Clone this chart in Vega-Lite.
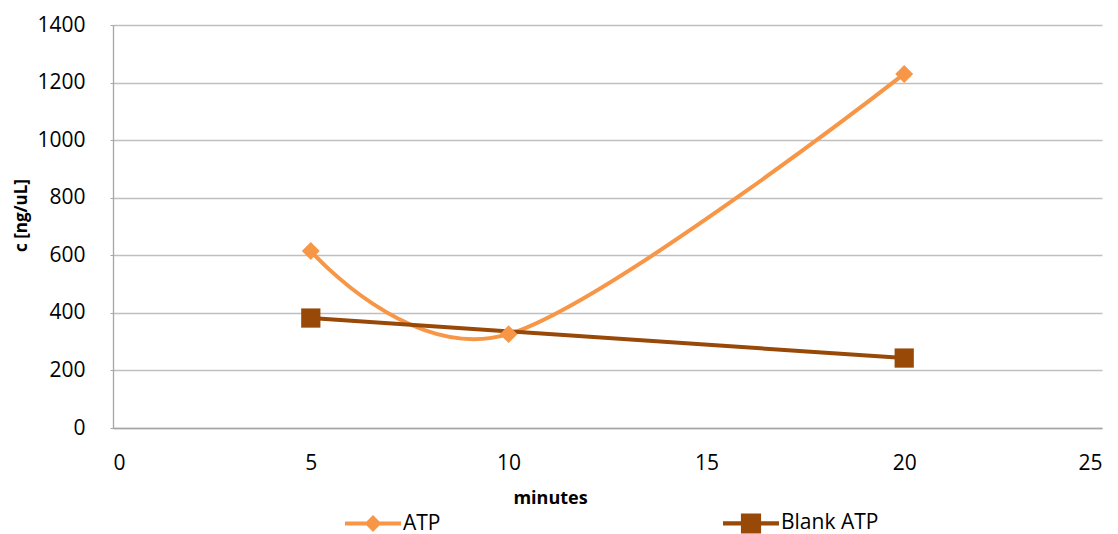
{
  "$schema": "https://vega.github.io/schema/vega-lite/v6.json",
  "width": 989,
  "height": 403,
  "autosize": {"type": "none"},
  "padding": {"left": 113, "top": 25, "right": 16, "bottom": 106},
  "background": "white",
  "config": {
    "font": "Open Sans",
    "view": {"stroke": null},
    "axis": {
      "labelFont": "Open Sans",
      "labelFontSize": 21,
      "labelColor": "#000000",
      "titleFont": "Open Sans",
      "titleFontSize": 18,
      "titleFontWeight": "bold",
      "titleColor": "#000000",
      "domainColor": "#a6a6a6",
      "domainWidth": 1.3,
      "tickColor": "#a6a6a6",
      "gridColor": "#bfbfbf",
      "gridWidth": 1.3
    }
  },
  "data": {
    "values": [
      {"minutes": 5, "c": 615, "series": "ATP"},
      {"minutes": 10, "c": 326, "series": "ATP"},
      {"minutes": 20, "c": 1230, "series": "ATP"},
      {"minutes": 5, "c": 382, "series": "Blank ATP"},
      {"minutes": 20, "c": 243, "series": "Blank ATP"}
    ]
  },
  "encoding": {
    "x": {
      "field": "minutes",
      "type": "quantitative",
      "scale": {"domain": [0, 25], "nice": false},
      "axis": {
        "values": [0, 5, 10, 15, 20, 25],
        "format": "d",
        "grid": false,
        "ticks": false,
        "labelPadding": 24,
        "title": "minutes",
        "titleX": 437,
        "titlePadding": 16
      }
    },
    "y": {
      "field": "c",
      "type": "quantitative",
      "scale": {"domain": [0, 1400], "nice": false},
      "axis": {
        "values": [0, 200, 400, 600, 800, 1000, 1200, 1400],
        "format": "d",
        "tickSize": 3,
        "labelPadding": 25,
        "title": "c [ng/uL]",
        "titleFontSize": 17,
        "titleX": -92,
        "titleY": 190,
        "titleBaseline": "middle"
      }
    },
    "color": {
      "field": "series",
      "type": "nominal",
      "scale": {"domain": ["ATP", "Blank ATP"], "range": ["#f79646", "#984807"]},
      "legend": {
        "orient": "none",
        "legendX": 232,
        "legendY": 470,
        "direction": "horizontal",
        "columns": 2,
        "columnPadding": 282,
        "title": null,
        "labelFont": "Open Sans",
        "labelFontSize": 21,
        "labelColor": "#000000",
        "labelOffset": 2,
        "labelLimit": 300,
        "symbolSize": 3136,
        "symbolStrokeWidth": 0,
        "encode": {
          "symbols": {
            "update": {
              "shape": {"signal": "datum.value === 'ATP' ? 'M-1,-0.075H1V0.075H-1Z M0,-0.3L0.3,0L0,0.3L-0.3,0Z' : 'M-1,-0.075H1V0.075H-1Z M-0.36,-0.36H0.36V0.36H-0.36Z'"},
              "fillOpacity": {"value": 1},
              "strokeWidth": {"value": 0}
            }
          }
        }
      }
    }
  },
  "layer": [
    {
      "transform": [{"filter": "datum.series === 'ATP'"}],
      "mark": {"type": "line", "interpolate": "cardinal", "tension": 0, "strokeWidth": 4, "strokeCap": "round"}
    },
    {
      "transform": [{"filter": "datum.series === 'Blank ATP'"}],
      "mark": {"type": "line", "strokeWidth": 4}
    },
    {
      "transform": [{"filter": "datum.series === 'ATP'"}],
      "mark": {"type": "point", "shape": "diamond", "filled": true, "opacity": 1, "size": 320}
    },
    {
      "transform": [{"filter": "datum.series === 'Blank ATP'"}],
      "mark": {"type": "point", "shape": "square", "filled": true, "opacity": 1, "size": 370}
    }
  ]
}
